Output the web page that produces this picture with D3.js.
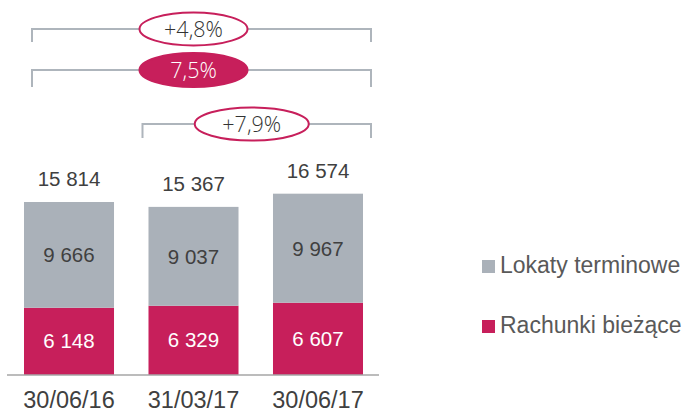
<!DOCTYPE html>
<html><head><meta charset="utf-8">
<script src="https://cdn.jsdelivr.net/npm/d3@7/dist/d3.min.js"></script>
<style>body{margin:0;background:#fff}svg{display:block}</style>
</head><body>
<svg id="c" width="691" height="413"></svg>
<script>
const categories = ["30/06/16", "31/03/17", "30/06/17"];
const rachunki = [6148, 6329, 6607];
const lokaty = [9666, 9037, 9967];
const totals = [15814, 15367, 16574];
const seriesNames = ["Lokaty terminowe", "Rachunki bieżące"];
const growthLabels = ["+4,8%", "7,5%", "+7,9%"];
const growthFrom = [0, 0, 1];
const growthTo = [2, 2, 2];

const RED = "#c71f5b", GRAY = "#aab1b9", TXT = "#404040";
const fmt = v => d3.format(",")(v).replace(/,/g, " ");

const svg = d3.select("#c");
const x = d3.scaleBand().domain(categories).range([24, 363]).paddingInner(0.277).paddingOuter(0);
const y = d3.scaleLinear().domain([0, 20000]).range([375, 375 - 20000 * 0.01094]);

const data = categories.map((c, i) => ({c, r: rachunki[i], l: lokaty[i], t: totals[i]}));

svg.selectAll(".r").data(data).enter().append("rect")
  .attr("x", d => x(d.c)).attr("width", x.bandwidth())
  .attr("y", d => y(d.r)).attr("height", d => y(0) - y(d.r)).attr("fill", RED);
svg.selectAll(".l").data(data).enter().append("rect")
  .attr("x", d => x(d.c)).attr("width", x.bandwidth())
  .attr("y", d => y(d.t)).attr("height", d => y(d.r) - y(d.t)).attr("fill", GRAY);

svg.append("line").attr("x1", 7).attr("x2", 379).attr("y1", y(0)).attr("y2", y(0))
  .attr("stroke", "#a6a6a6").attr("stroke-width", 1.5);

const font = "'Liberation Sans', Arial, sans-serif";
svg.selectAll(".rl").data(data).enter().append("text")
  .attr("x", d => x(d.c) + x.bandwidth() / 2).attr("y", d => (y(0) + y(d.r)) / 2 + 7)
  .attr("text-anchor", "middle").attr("font-family", font).attr("font-size", 20.5)
  .attr("fill", "#fff").text(d => fmt(d.r));
svg.selectAll(".ll").data(data).enter().append("text")
  .attr("x", d => x(d.c) + x.bandwidth() / 2).attr("y", d => (y(d.r) + y(d.t)) / 2 + 7.5)
  .attr("text-anchor", "middle").attr("font-family", font).attr("font-size", 20.5)
  .attr("fill", TXT).text(d => fmt(d.l));
svg.selectAll(".tl").data(data).enter().append("text")
  .attr("x", d => x(d.c) + x.bandwidth() / 2).attr("y", d => y(d.t) - 16)
  .attr("text-anchor", "middle").attr("font-family", font).attr("font-size", 20.5)
  .attr("fill", TXT).text(d => fmt(d.t));
svg.selectAll(".cl").data(data).enter().append("text")
  .attr("x", d => x(d.c) + x.bandwidth() / 2).attr("y", 408)
  .attr("text-anchor", "middle").attr("font-family", font).attr("font-size", 23.5)
  .attr("fill", TXT).text(d => d.c);

const bracketY = [29, 70, 124];
const bracketDrop = [13, 17, 14];
const ell = [{rx: 54, ry: 16.5}, {rx: 54, ry: 17}, {rx: 57, ry: 16.5}];
growthLabels.forEach((lab, i) => {
  const x1 = x(categories[growthFrom[i]]) + (growthFrom[i] === 0 ? 8 : -6);
  const x2 = x(categories[growthTo[i]]) + x.bandwidth() + 8;
  const yy = bracketY[i];
  svg.append("path")
    .attr("d", `M${x1},${yy + bracketDrop[i]}V${yy}H${x2}V${yy + bracketDrop[i]}`)
    .attr("fill", "none").attr("stroke", "#aeb5bc").attr("stroke-width", 2);
  const cx = (x1 + x2) / 2 + (i === 2 ? -5 : -8);
  const filled = i === 1;
  svg.append("ellipse").attr("cx", cx).attr("cy", yy).attr("rx", ell[i].rx).attr("ry", ell[i].ry)
    .attr("fill", filled ? RED : "#fff").attr("stroke", RED).attr("stroke-width", 2);
  svg.append("text").attr("x", cx).attr("y", yy + 8).attr("text-anchor", "middle")
    .attr("font-family", "'Open Sans', sans-serif").attr("font-weight", 300)
    .attr("font-size", 21.5).attr("fill", filled ? "#fff" : "#333").text(lab);
});

const legColors = [GRAY, RED];
const legY = [273, 333];
seriesNames.forEach((n, i) => {
  svg.append("rect").attr("x", 482).attr("y", legY[i] - 13).attr("width", 13).attr("height", 13)
    .attr("fill", legColors[i]);
  svg.append("text").attr("x", 500).attr("y", legY[i]).attr("font-family", font)
    .attr("font-size", 23).attr("fill", "#595959").text(n);
});
</script>
</body></html>
